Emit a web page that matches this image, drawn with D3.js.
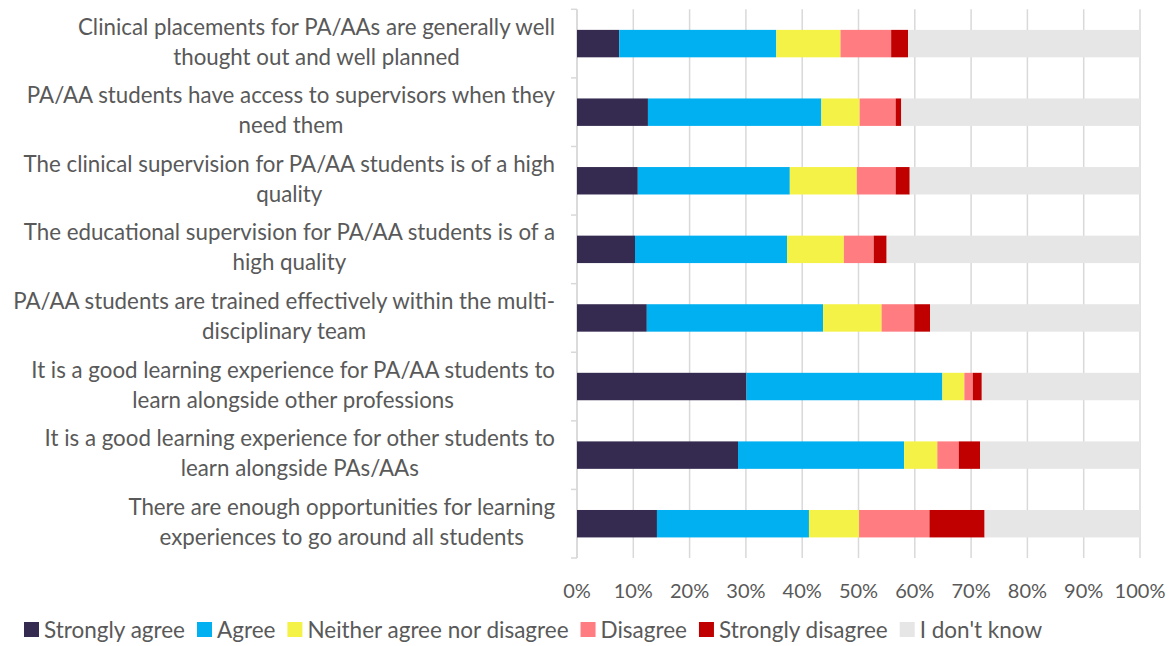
<!doctype html>
<html>
<head>
<script src="https://d3js.org/d3.v7.min.js"></script>
<style>
  body { margin: 0; background: #fff; }
  text { font-family: Lato, 'Open Sans', sans-serif; fill: #595959; }
</style>
</head>
<body>
<svg id="chart" width="1174" height="646"></svg>
<script>
const categories = [
  "Clinical placements for PA/AAs are generally well|thought out and well planned",
  "PA/AA students have access to supervisors when they|need them",
  "The clinical supervision for PA/AA students is of a high|quality",
  "The educational supervision for PA/AA students is of a|high quality",
  "PA/AA students are trained effectively within the multi-|disciplinary team",
  "It is a good learning experience for PA/AA students to|learn alongside other professions",
  "It is a good learning experience for other students to|learn alongside PAs/AAs",
  "There are enough opportunities for learning|experiences to go around all students"
];
const seriesNames = ["Strongly agree", "Agree", "Neither agree nor disagree", "Disagree", "Strongly disagree", "I don't know"];
const colors = ["#352a50", "#00b0f0", "#f5f247", "#ff7c80", "#c00000", "#e6e6e6"];

const stronglyAgree = [7.5, 12.6, 10.8, 10.3, 12.4, 30.1, 28.6, 14.2];
const agree         = [27.9, 30.8, 27.0, 27.0, 31.3, 34.8, 29.5, 27.0];
const neither       = [11.4, 6.8, 11.9, 10.1, 10.4, 3.9, 5.9, 8.9];
const disagree      = [9.0, 6.4, 6.9, 5.3, 5.8, 1.5, 3.8, 12.5];
const stronglyDis   = [3.0, 1.0, 2.5, 2.3, 2.8, 1.6, 3.8, 9.8];
const dontKnow      = [41.2, 42.4, 40.9, 45.0, 37.3, 28.1, 28.4, 27.6];
const xTicks = [0, 10, 20, 30, 40, 50, 60, 70, 80, 90, 100];

const allSeries = [stronglyAgree, agree, neither, disagree, stronglyDis, dontKnow];
const rows = categories.map((c, i) => {
  const r = { cat: c };
  seriesNames.forEach((s, j) => r[s] = allSeries[j][i]);
  return r;
});

const svg = d3.select("#chart");
const plotLeft = 577, plotRight = 1140, plotTop = 9.3, plotBottom = 558;

const x = d3.scaleLinear().domain([0, 100]).range([plotLeft, plotRight]);
const y = d3.scaleBand().domain(categories).range([plotTop, plotBottom]).paddingInner(0.6).paddingOuter(0.3);

// gridlines
svg.append("g").selectAll("line").data(xTicks).join("line")
  .attr("x1", d => x(d)).attr("x2", d => x(d))
  .attr("y1", plotTop).attr("y2", plotBottom)
  .attr("stroke", "#d9d9d9").attr("stroke-width", 1.5);

// left axis with ticks at band boundaries
const band = (plotBottom - plotTop) / categories.length;
const yAx = svg.append("g");
yAx.append("line").attr("x1", plotLeft).attr("x2", plotLeft).attr("y1", plotTop).attr("y2", plotBottom)
  .attr("stroke", "#d9d9d9").attr("stroke-width", 1.5);
yAx.selectAll("line.tk").data(d3.range(categories.length + 1)).join("line").attr("class", "tk")
  .attr("x1", plotLeft - 6).attr("x2", plotLeft)
  .attr("y1", i => plotTop + i * band).attr("y2", i => plotTop + i * band)
  .attr("stroke", "#d9d9d9").attr("stroke-width", 1.5);

// stacked bars
const stack = d3.stack().keys(seriesNames)(rows);
svg.append("g").selectAll("g").data(stack).join("g")
  .attr("fill", (d, i) => colors[i])
  .selectAll("rect").data(d => d).join("rect")
  .attr("x", d => x(d[0]))
  .attr("width", d => x(d[1]) - x(d[0]))
  .attr("y", d => y(d.data.cat))
  .attr("height", y.bandwidth());

// category labels (two lines, centred block right-aligned)
const labG = svg.append("g");
categories.forEach(c => {
  const lines = c.split("|");
  const g = labG.append("g");
  const cy = y(c) + y.bandwidth() / 2;
  const ts = lines.map((l, k) => g.append("text")
    .attr("y", cy + (k - (lines.length - 1) / 2) * 30 + 6)
    .attr("font-size", 22.3)
    .attr("text-anchor", "middle")
    .text(l));
  const w = d3.max(ts, t => t.node().getComputedTextLength());
  ts.forEach(t => t.attr("x", 555 - w / 2));
});

// x axis labels
svg.append("g").selectAll("text").data(xTicks).join("text")
  .attr("x", d => x(d)).attr("y", 598)
  .attr("text-anchor", "middle").attr("font-size", 20)
  .text(d => d + "%");

// legend
const lg = svg.append("g");
let lx = 24;
seriesNames.forEach((s, i) => {
  lg.append("rect").attr("x", lx).attr("y", 622).attr("width", 15).attr("height", 15).attr("fill", colors[i]);
  const t = lg.append("text").attr("x", lx + 20).attr("y", 638).attr("font-size", 22.5).text(s);
  lx += 20 + t.node().getComputedTextLength() + 12;
});
</script>
</body>
</html>
